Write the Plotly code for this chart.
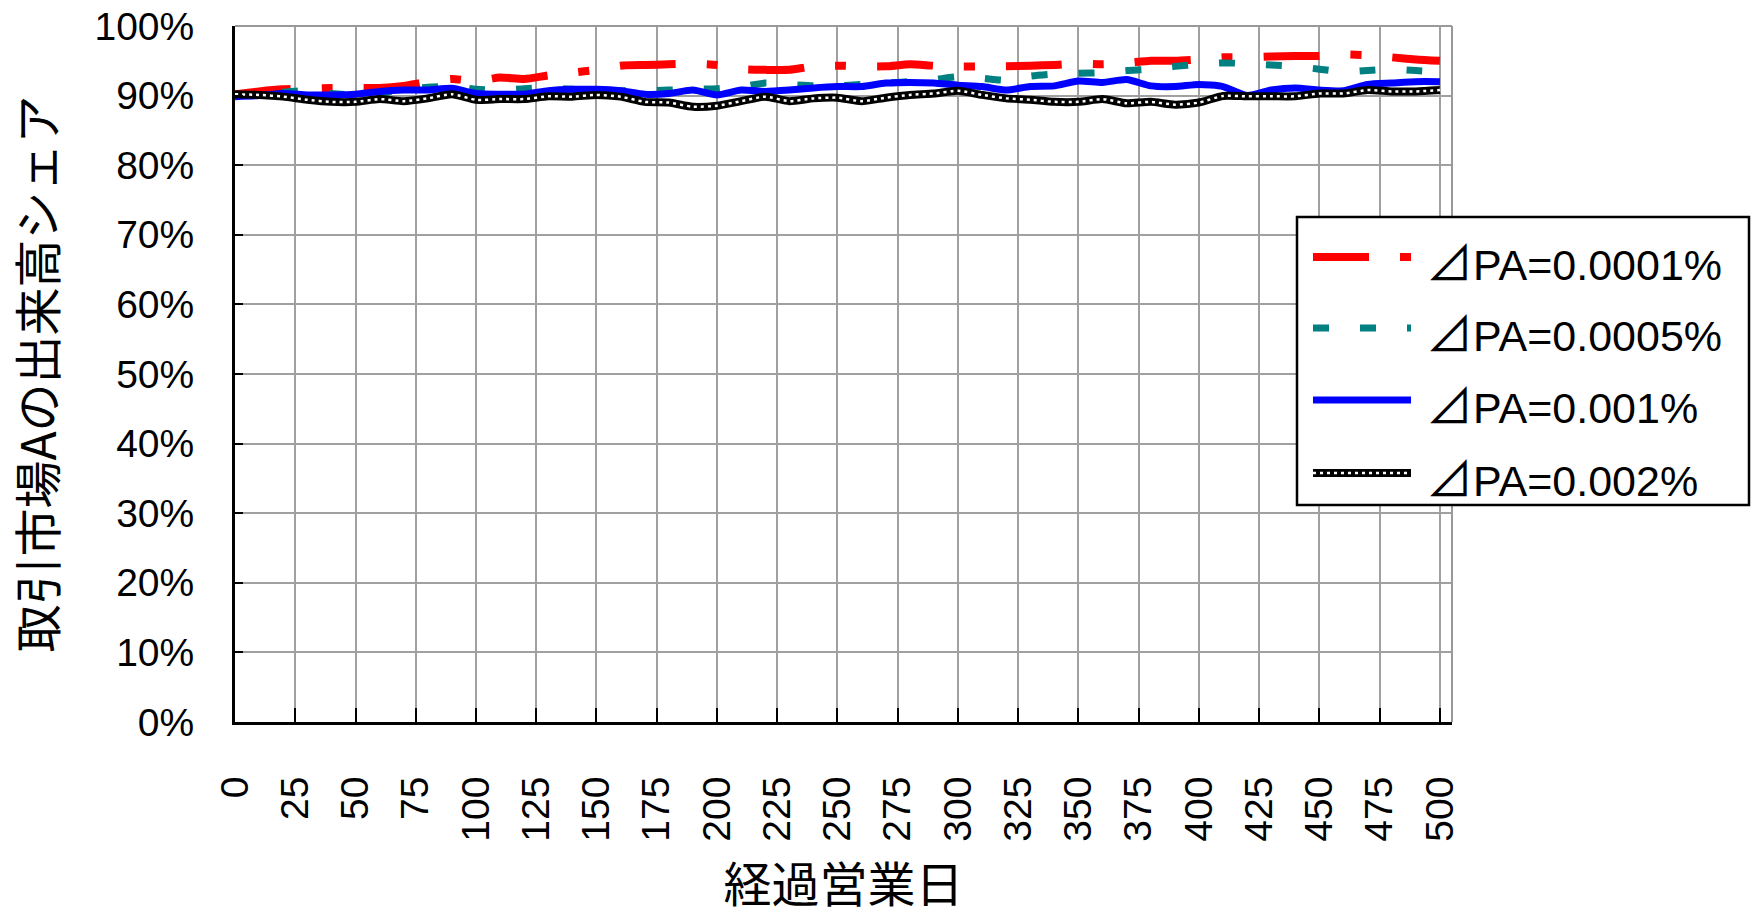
import plotly.graph_objects as go

# ---- data ----
days = list(range(0, 501, 10))

pa_0001 = [90.2, 90.6, 90.9, 91.0, 91.1, 91.1, 91.1, 91.4, 92.0, 92.4,
           92.1, 92.6, 92.4, 92.9, 93.3, 93.7, 94.3, 94.4, 94.5, 94.6,
           94.4, 93.8, 93.7, 93.7, 94.2, 94.3, 94.2, 94.2, 94.5, 94.3,
           94.2, 94.2, 94.2, 94.3, 94.4, 94.6, 94.5, 94.7, 95.0, 95.0,
           95.2, 95.5, 95.5, 95.6, 95.7, 95.7, 95.9, 95.8, 95.5, 95.2, 95.0]

pa_0005 = [90.0, 90.2, 90.5, 90.7, 90.3, 90.1, 90.4, 90.8, 91.2, 91.3,
           90.9, 90.8, 91.0, 91.1, 90.9, 90.7, 90.7, 90.7, 90.8, 90.9,
           91.0, 91.3, 91.8, 91.6, 91.4, 91.4, 91.6, 91.8, 92.0, 92.3,
           92.7, 92.5, 92.2, 92.8, 93.1, 93.2, 93.3, 93.6, 93.8, 94.2,
           94.5, 94.7, 94.6, 94.4, 94.2, 93.8, 93.4, 93.6, 93.8, 93.6, 93.4]

pa_001 = [89.85, 90.0, 90.3, 90.1, 90.1, 90.2, 90.6, 90.8, 90.8, 91.05,
          90.3, 90.2, 90.2, 90.7, 90.9, 90.9, 90.7, 90.2, 90.3, 90.8,
          90.1, 90.8, 90.6, 90.8, 91.1, 91.3, 91.3, 91.8, 91.9, 91.8,
          91.5, 91.3, 90.8, 91.3, 91.4, 92.1, 91.9, 92.3, 91.4, 91.3,
          91.6, 91.3, 90.0, 90.8, 91.1, 90.8, 90.7, 91.6, 91.8, 92.0, 92.0]

pa_002 = [90.2, 90.1, 89.85, 89.4, 89.1, 89.1, 89.5, 89.2, 89.6, 90.2,
          89.4, 89.5, 89.5, 89.9, 89.85, 90.1, 89.85, 89.1, 89.0, 88.4,
          88.55, 89.2, 89.85, 89.2, 89.6, 89.7, 89.2, 89.7, 90.1, 90.3,
          90.7, 90.1, 89.6, 89.4, 89.1, 89.1, 89.5, 88.9, 89.1, 88.7,
          89.0, 89.95, 89.9, 89.9, 89.9, 90.3, 90.3, 90.8, 90.6, 90.6, 90.8]

legend_labels = ["⊿PA=0.0001%", "⊿PA=0.0005%", "⊿PA=0.001%", "⊿PA=0.002%"]
x_ticks = list(range(0, 501, 25))
y_ticks = list(range(0, 101, 10))

# ---- styles ----
RED, TEAL, BLUE, BLACK = "#ff0000", "#008080", "#0000ff", "#000000"
RED_DASH = "56px,31px,11px,31px"
TEAL_DASH = "16px,31px"
TICK_FONT = dict(family="Liberation Sans, Arial, sans-serif", size=39, color="black")
CJK_FONT_Y = dict(family="Noto Sans CJK JP, sans-serif", size=48, color="black")
CJK_FONT_X = dict(family="Noto Sans CJK JP, sans-serif", size=48, color="black")

W, H = 1752, 916
# plot-area edges in page pixels (from the reference)
L, R, T, B = 235, 1452, 26, 722


def px2x(px):
    return (px - L) / (R - L)


def py2y(py):
    return (B - py) / (B - T)


def legend_markup(label):
    tri, rest = label[0], label[1:]
    return ("<span style='font-family:Noto Sans CJK JP;font-size:47px'>" + tri +
            "</span>" + rest)


fig = go.Figure()
fig.add_trace(go.Scatter(x=days, y=pa_0001, mode="lines", name=legend_labels[0],
                         line=dict(color=RED, width=8, dash=RED_DASH, shape="spline", smoothing=0.6)))
fig.add_trace(go.Scatter(x=days, y=pa_0005, mode="lines", name=legend_labels[1],
                         line=dict(color=TEAL, width=7, dash=TEAL_DASH, shape="spline", smoothing=0.6)))
fig.add_trace(go.Scatter(x=days, y=pa_001, mode="lines", name=legend_labels[2],
                         line=dict(color=BLUE, width=7, shape="spline", smoothing=0.6)))
fig.add_trace(go.Scatter(x=days, y=pa_002, mode="lines", name=legend_labels[3],
                         line=dict(color=BLACK, width=8, shape="spline", smoothing=0.6)))
fig.add_trace(go.Scatter(x=days, y=pa_002, mode="lines", hoverinfo="skip", showlegend=False,
                         line=dict(color="white", width=2.5, dash="3px,4px", shape="spline", smoothing=0.6)))

shapes = []
# top/right gray frame
shapes.append(dict(type="line", xref="paper", yref="paper", x0=0, x1=1, y0=1, y1=1,
                   line=dict(color="#999999", width=2)))
shapes.append(dict(type="line", xref="paper", yref="paper", x0=1, x1=1, y0=0, y1=1,
                   line=dict(color="#999999", width=2)))

# custom legend box
shapes.append(dict(type="rect", xref="paper", yref="paper",
                   x0=px2x(1297), x1=px2x(1749), y0=py2y(505), y1=py2y(217),
                   fillcolor="white", line=dict(color="black", width=2.5), layer="above"))
entry_y = [257, 328, 400, 473]
styles = [(RED, 8, RED_DASH), (TEAL, 7, TEAL_DASH), (BLUE, 7, "solid"), (BLACK, 8, "solid")]
annotations = []
for yy, (c, w, d), lab in zip(entry_y, styles, legend_labels):
    shapes.append(dict(type="line", xref="paper", yref="paper",
                       x0=px2x(1313), x1=px2x(1411), y0=py2y(yy), y1=py2y(yy),
                       line=dict(color=c, width=w, dash=d), layer="above"))
    annotations.append(dict(xref="paper", yref="paper", x=px2x(1424), y=py2y(yy + 2),
                            xanchor="left", yanchor="middle", showarrow=False,
                            text=legend_markup(lab),
                            font=dict(family="Liberation Sans, Arial, sans-serif", size=43, color="black")))
# white dots in black legend sample
shapes.append(dict(type="line", xref="paper", yref="paper",
                   x0=px2x(1313), x1=px2x(1411), y0=py2y(entry_y[3]), y1=py2y(entry_y[3]),
                   line=dict(color="white", width=2.5, dash="3px,4px"), layer="above"))

fig.update_layout(
    width=W, height=H,
    margin=dict(l=L, r=W - R, t=T, b=H - B, pad=0, autoexpand=False),
    paper_bgcolor="white", plot_bgcolor="white",
    showlegend=False,
    shapes=shapes, annotations=annotations,
)
fig.update_xaxes(
    range=[0, 505], tickvals=x_ticks, ticktext=[str(v) for v in x_ticks],
    tickangle=-90, tickfont=TICK_FONT, ticklabelstandoff=36, automargin=False,
    ticklabeloverflow="allow",
    showgrid=True, gridcolor="#a0a0a0", gridwidth=1.5,
    showline=True, linecolor="black", linewidth=3,
    ticks="inside", ticklen=14, tickwidth=2, tickcolor="black",
    zeroline=False,
    title=dict(text="経過営業日", font=CJK_FONT_X, standoff=31),
)
fig.update_yaxes(
    range=[0, 100], tickvals=y_ticks, ticktext=[f"{v}%" for v in y_ticks],
    tickfont=TICK_FONT, ticklabelstandoff=30, automargin=False,
    ticklabeloverflow="allow",
    showgrid=True, gridcolor="#a0a0a0", gridwidth=1.5,
    showline=True, linecolor="black", linewidth=3,
    ticks="inside", ticklen=8, tickwidth=2, tickcolor="black",
    zeroline=False,
    title=dict(text="取引市場Aの出来高シェア", font=CJK_FONT_Y, standoff=36),
)

fig.write_html("out.html", config={"displayModeBar": False},
               post_script="document.body.style.margin='0px';")
